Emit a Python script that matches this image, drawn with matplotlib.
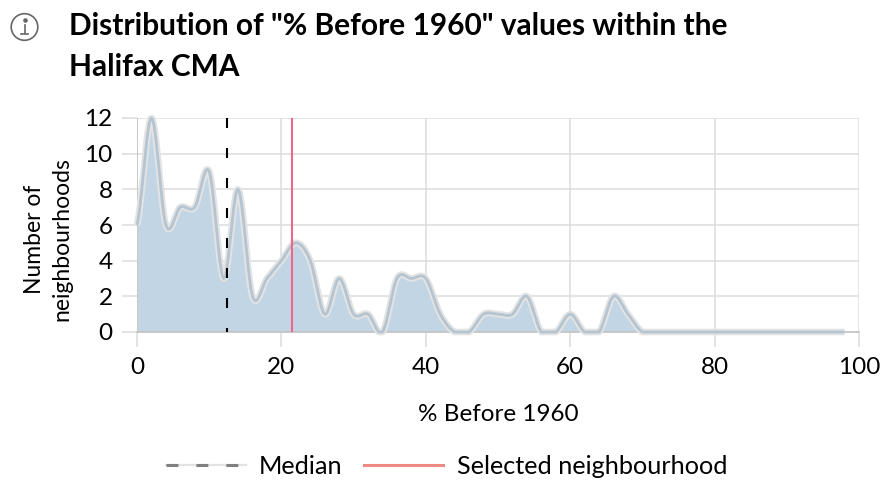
import numpy as np
import matplotlib
matplotlib.use("Agg")
import matplotlib.pyplot as plt
from matplotlib.lines import Line2D
from matplotlib.legend_handler import HandlerTuple
from matplotlib.patches import Circle

plt.rcParams['font.family'] = ['Lato', 'DejaVu Sans']

title_lines = ['Distribution of "% Before 1960" values within the', 'Halifax CMA']
x_label = '% Before 1960'
y_label = 'Number of\nneighbourhoods'
x_ticks = [0, 20, 40, 60, 80, 100]
y_ticks = [0, 2, 4, 6, 8, 10, 12]
pct_before = [0, 2, 4, 6, 8, 10, 12, 14, 16, 18, 20, 22, 24, 26, 28, 30, 32, 34, 36, 38, 40,
              42, 44, 46, 48, 50, 52, 54, 56, 58, 60, 62, 64, 66, 68, 70, 72, 74, 76, 78, 80,
              82, 84, 86, 88, 90, 92, 94, 96, 98]
counts = [6, 12, 6, 7, 7, 9, 3, 8, 2, 3, 4, 5, 4, 1, 3, 1, 1, 0, 3, 3, 3,
          1, 0, 0, 1, 1, 1, 2, 0, 0, 1, 0, 0, 2, 1, 0, 0, 0, 0, 0, 0,
          0, 0, 0, 0, 0, 0, 0, 0, 0]
median_value = 12.47
selected_value = 21.47
legend_labels = ['Median', 'Selected neighbourhood']


def smooth(xs, ys, n=24):
    """Catmull-Rom rendering of the read values (the curve passes through each one)."""
    xs, ys = np.asarray(xs, float), np.asarray(ys, float)
    px, py = [], []
    for i in range(len(xs) - 1):
        y0 = ys[max(i - 1, 0)]
        y1, y2 = ys[i], ys[i + 1]
        y3 = ys[min(i + 2, len(ys) - 1)]
        t = np.linspace(0, 1, n, endpoint=False)
        px.append(xs[i] + t * (xs[i + 1] - xs[i]))
        py.append(0.5 * (2 * y1 + (y2 - y0) * t + (2 * y0 - 5 * y1 + 4 * y2 - y3) * t ** 2
                         + (3 * y1 - y0 - 3 * y2 + y3) * t ** 3))
    px.append(xs[-1:])
    py.append(ys[-1:])
    return np.concatenate(px), np.concatenate(py)


W, H = 889, 492
fig = plt.figure(figsize=(W / 100, H / 100), dpi=100)
ax = fig.add_axes([137 / W, 1 - 332 / H, (859 - 137) / W, (332 - 118) / H])
ax.set_xlim(0, 100)
ax.set_ylim(0, 12)
ax.set_xticks(x_ticks)
ax.set_yticks(y_ticks)
for s in ax.spines.values():
    s.set_visible(False)
ax.grid(True, color='#dddddd', linewidth=1.1, zorder=0)
ax.set_axisbelow(True)
ax.tick_params(axis='both', length=11, width=1.1, color='#dddddd', labelsize=17.5,
               labelcolor='black')
ax.tick_params(axis='x', pad=7)
ax.tick_params(axis='y', pad=6.5)

sx, sy = smooth(pct_before, counts)
sy = np.clip(sy, 0, None)
ax.fill_between(sx, sy, 0, color='#c2d5e4', linewidth=0, zorder=2)
ax.axhline(0, color='#c4c4c4', lw=1.2, zorder=2.1, clip_on=False)
ax.axvline(0, color='#c4c4c4', lw=1.2, zorder=2.1)
ax.plot(sx, sy, color='#e3e3e3', lw=4.8, zorder=3, clip_on=False, solid_capstyle='butt')
ax.plot(sx, sy, color='#b4c4d0', lw=2.0, zorder=3.1, clip_on=False, solid_capstyle='butt')
ax.plot([median_value, median_value], [12, 0], color='black', lw=1.5,
        dashes=(4.8, 9.6), zorder=4, dash_capstyle='butt')
ax.axvline(selected_value, color='#f0668a', lw=1.5, zorder=4)

ax.set_xlabel(x_label, fontsize=17.5, labelpad=19)
fig.text(48 / W, 1 - 239 / H, y_label, rotation=90, fontsize=16.5, ha='center', va='center',
         linespacing=1.35, multialignment='center')

fig.text(69 / W, 1 - 26 / H, title_lines[0], fontsize=21.5, fontweight='bold', va='center', ha='left')
fig.text(69 / W, 1 - 67 / H, title_lines[1], fontsize=21.5, fontweight='bold', va='center', ha='left')

# Info icon
bg = fig.add_axes([0, 0, 1, 1], zorder=-1)
bg.set_xlim(0, W)
bg.set_ylim(H, 0)
bg.axis('off')
bg.add_patch(Circle((24.5, 27), 13.3, fill=False, ec='#666666', lw=1.2))
bg.plot([24.5, 24.5], [25, 33], color='#666666', lw=1.2)
bg.plot([21, 28], [33.5, 33.5], color='#666666', lw=1.2)
bg.plot([24.5], [20], marker='o', ms=2.3, color='#666666')

median_handle = (Line2D([], [], color='#e3e3e3', lw=1.6),
                 Line2D([], [], color='#808080', lw=2.2, dashes=(3.9, 5.9), dash_capstyle='butt'))
selected_handle = Line2D([], [], color='#f08a85', lw=2.2)
fig.legend([median_handle, selected_handle], legend_labels,
           handler_map={tuple: HandlerTuple(ndivide=1, pad=0)},
           loc='center', bbox_to_anchor=(446.5 / W, 1 - 466 / H), ncol=2, frameon=False,
           fontsize=18.2, handlelength=3.15, handletextpad=0.52, columnspacing=0.85)

fig.savefig('out.png', dpi=100)
